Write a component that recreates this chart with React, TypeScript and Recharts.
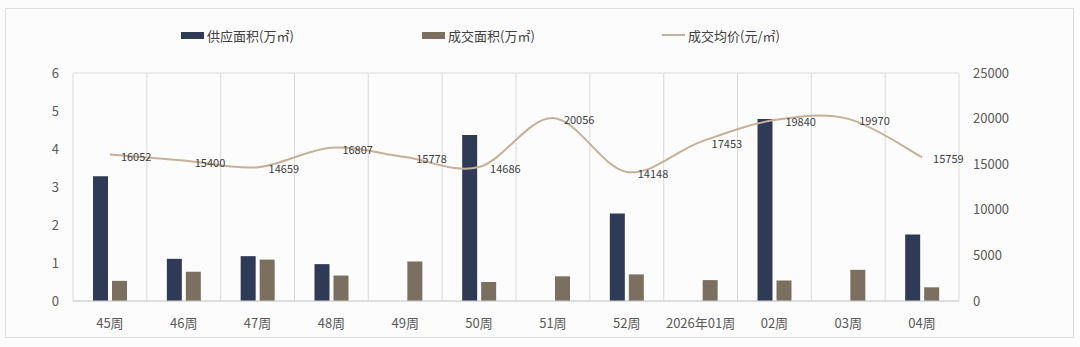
import React from 'react';
import {
  ComposedChart,
  Bar,
  Line,
  XAxis,
  YAxis,
  CartesianGrid,
  LabelList,
} from 'recharts';

const categories = ['45周', '46周', '47周', '48周', '49周', '50周', '51周', '52周', '2026年01周', '02周', '03周', '04周'];
const supplyArea = [3.28, 1.11, 1.18, 0.97, 0, 4.37, 0, 2.3, 0, 4.79, 0, 1.75];
const dealArea = [0.53, 0.77, 1.09, 0.67, 1.04, 0.5, 0.65, 0.7, 0.55, 0.54, 0.82, 0.36];
const avgPrice = [16052, 15400, 14659, 16807, 15778, 14686, 20056, 14148, 17453, 19840, 19970, 15759];
const leftTicks = [0, 1, 2, 3, 4, 5, 6];
const rightTicks = [0, 5000, 10000, 15000, 20000, 25000];

const SUPPLY_COLOR = '#2f3a56';
const DEAL_COLOR = '#7b6f60';
const PRICE_COLOR = '#c6b097';
const FONT = '"Noto Sans CJK SC", "Noto Sans", sans-serif';

const data = categories.map((name, i) => ({
  name,
  supply: supplyArea[i],
  deal: dealArea[i],
  price: avgPrice[i],
}));

// Excel-like smoothed line (Catmull-Rom through the points)
const smoothCurve = (context: any) => {
  let pts: number[][] = [];
  return {
    areaStart() {},
    areaEnd() {},
    lineStart() {
      pts = [];
    },
    point(x: number, y: number) {
      pts.push([+x, +y]);
    },
    lineEnd() {
      if (!pts.length) return;
      context.moveTo(pts[0][0], pts[0][1]);
      for (let i = 0; i < pts.length - 1; i++) {
        const p0 = pts[Math.max(i - 1, 0)];
        const p1 = pts[i];
        const p2 = pts[i + 1];
        const p3 = pts[Math.min(i + 2, pts.length - 1)];
        context.bezierCurveTo(
          p1[0] + (p2[0] - p0[0]) / 6,
          p1[1] + (p2[1] - p0[1]) / 6,
          p2[0] - (p3[0] - p1[0]) / 6,
          p2[1] - (p3[1] - p1[1]) / 6,
          p2[0],
          p2[1]
        );
      }
    },
  };
};

const legendItems = [
  { label: '供应面积(万㎡)', color: SUPPLY_COLOR, kind: 'rect', left: 181 },
  { label: '成交面积(万㎡)', color: DEAL_COLOR, kind: 'rect', left: 422 },
  { label: '成交均价(元/㎡)', color: PRICE_COLOR, kind: 'line', left: 662 },
];

const PriceLabel = (props: any) => {
  const { x, y, value } = props;
  return (
    <text x={x + 11} y={y + 6} fontSize={11} fill="#404040" fontFamily={FONT}>
      {value}
    </text>
  );
};

export default function App() {
  const width = 1080;
  const height = 347;
  return (
    <div style={{ position: 'absolute', left: 0, top: 0, width, height, background: '#fcfcfc', fontFamily: FONT }}>
      <div
        style={{
          position: 'absolute',
          left: 5,
          top: 8,
          width: 1069,
          height: 330,
          border: '1px solid #dedede',
          boxSizing: 'border-box',
        }}
      />
      {legendItems.map((item) => (
        <div
          key={item.label}
          style={{
            position: 'absolute',
            left: item.left,
            top: 26,
            height: 18,
            display: 'flex',
            alignItems: 'center',
            fontSize: 13,
            color: '#404040',
            whiteSpace: 'nowrap',
          }}
        >
          {item.kind === 'rect' ? (
            <span style={{ display: 'inline-block', width: 23, height: 7, background: item.color, marginRight: 3 }} />
          ) : (
            <span style={{ display: 'inline-block', width: 23, height: 2, background: item.color, marginRight: 3 }} />
          )}
          {item.label}
        </div>
      ))}
      <div style={{ position: 'absolute', left: 0, top: 0 }}>
        <ComposedChart
          width={width}
          height={height}
          data={data}
          margin={{ top: 73, right: 61, bottom: 16, left: 20 }}
          barSize={15}
          barGap={4}
        >
          <CartesianGrid
            stroke="#dadada"
            verticalCoordinatesGenerator={({ offset }: any) =>
              categories.map((_, i) => offset.left + (i * offset.width) / categories.length).concat(offset.left + offset.width)
            }
          />
          <XAxis
            dataKey="name"
            axisLine={{ stroke: '#d0d0d0' }}
            tickLine={false}
            tickSize={0}
            tickMargin={18}
            height={30}
            interval={0}
            tick={{ fontSize: 13, fill: '#595959', fontFamily: FONT }}
          />
          <YAxis
            yAxisId="left"
            domain={[0, 6]}
            ticks={leftTicks}
            width={53}
            axisLine={false}
            tickLine={false}
            tickSize={0}
            tickMargin={14}
            tick={{ fontSize: 13, fill: '#595959', fontFamily: FONT }}
          />
          <YAxis
            yAxisId="right"
            orientation="right"
            domain={[0, 25000]}
            ticks={rightTicks}
            width={60}
            axisLine={false}
            tickLine={false}
            tickSize={0}
            tickMargin={14}
            tick={{ fontSize: 13, fill: '#595959', fontFamily: FONT, textAnchor: 'start' }}
          />
          <Bar yAxisId="left" dataKey="supply" name="供应面积(万㎡)" fill={SUPPLY_COLOR} isAnimationActive={false} />
          <Bar yAxisId="left" dataKey="deal" name="成交面积(万㎡)" fill={DEAL_COLOR} isAnimationActive={false} />
          <Line
            yAxisId="right"
            dataKey="price"
            name="成交均价(元/㎡)"
            type={smoothCurve as any}
            stroke={PRICE_COLOR}
            strokeWidth={2}
            dot={false}
            activeDot={false}
            isAnimationActive={false}
          >
            <LabelList dataKey="price" content={<PriceLabel />} />
          </Line>
        </ComposedChart>
      </div>
    </div>
  );
}
